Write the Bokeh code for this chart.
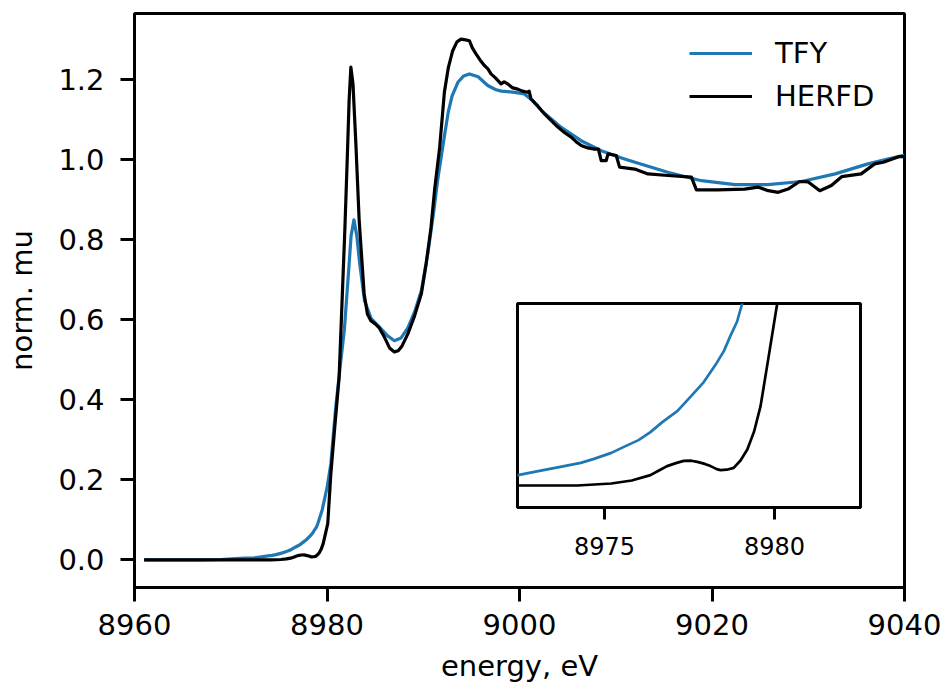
from bokeh.plotting import figure
from bokeh.models import Range1d, FixedTicker, PrintfTickFormatter, Legend, LegendItem
from bokeh.layouts import column
from bokeh.embed import file_html
from bokeh.resources import INLINE

# ---- data ----
tfy_energy = [8961.0, 8964.0, 8967.0, 8969.0, 8970.5, 8971.5, 8972.45, 8973.2, 8973.7,
              8974.3, 8974.69, 8975.2, 8975.57, 8976.0, 8976.35, 8976.7, 8977.14, 8977.5,
              8977.92, 8978.3, 8978.51, 8978.7, 8978.9, 8979.05, 8979.5, 8980.0,
              8980.4, 8980.9, 8981.4, 8981.8, 8982.3, 8982.5, 8982.8, 8983.1, 8983.4,
              8983.9, 8984.6, 8985.6, 8986.3, 8987.0, 8987.7, 8988.4, 8989.1, 8989.8,
              8990.5, 8991.1, 8991.5, 8992.2, 8992.6, 8993.0, 8993.6, 8994.2, 8994.8,
              8995.7, 8996.7, 8997.5, 8998.1, 8999.5, 9000.5, 9001.3, 9002.3, 9004.3,
              9006.4, 9008.5, 9010.6, 9012.0, 9015.4, 9018.9, 9022.4, 9025.8, 9029.3,
              9032.8, 9036.2, 9040.0]
tfy_mu = [0.0, 0.0, 0.0, 0.001, 0.003, 0.0045, 0.0052, 0.0077, 0.0093,
          0.0113, 0.0133, 0.0163, 0.0193, 0.0227, 0.0267, 0.0317, 0.0372, 0.0438,
          0.0517, 0.0613, 0.0672, 0.0747, 0.082, 0.091, 0.125, 0.18,
          0.24, 0.38, 0.49, 0.575, 0.74, 0.81, 0.85, 0.81, 0.74,
          0.648, 0.603, 0.578, 0.56, 0.548, 0.555, 0.58, 0.62, 0.673,
          0.77, 0.873, 0.95, 1.06, 1.12, 1.16, 1.194, 1.21, 1.215,
          1.208, 1.186, 1.176, 1.172, 1.169, 1.165, 1.15, 1.123, 1.082,
          1.048, 1.023, 1.005, 0.994, 0.969, 0.948, 0.938, 0.938, 0.946,
          0.965, 0.99, 1.012]

herfd_energy = [8961.0, 8965.0, 8970.0, 8974.2, 8975.2, 8975.8, 8976.35, 8976.6, 8976.84,
                8977.1, 8977.33, 8977.55, 8977.73, 8977.95, 8978.12, 8978.3, 8978.41,
                8978.6, 8978.8, 8979.0, 8979.2, 8979.4, 8979.59, 8979.83, 8980.08,
                8980.4, 8980.8, 8981.26, 8981.85, 8982.1, 8982.3, 8982.48, 8982.7,
                8983.0, 8983.34, 8983.86, 8984.2, 8984.56, 8985.0, 8985.4, 8985.9,
                8986.5, 8987.0, 8987.4, 8987.8, 8988.4, 8989.1, 8989.8, 8990.3, 8990.8,
                8991.2, 8991.7, 8992.2, 8992.6, 8993.06, 8993.5, 8993.92, 8994.4,
                8994.79, 8995.1, 8995.48, 8995.9, 8996.35, 8996.7, 8997.04, 8997.5,
                8998.08, 8998.4, 8998.78, 8999.3, 8999.82, 9000.3, 9000.86, 9001.0,
                9001.2, 9001.9, 9002.59, 9003.3, 9003.98, 9004.7, 9005.37, 9005.9,
                9006.41, 9007.1, 9007.8, 9008.2, 9008.49, 9009.0, 9009.2, 9010.05,
                9010.4, 9011.96, 9013.35, 9015.43, 9017.86, 9018.38, 9020.6, 9023.4,
                9024.79, 9025.84, 9026.88, 9027.9, 9029.1, 9030.0, 9031.2, 9032.4,
                9033.47, 9035.5, 9036.9, 9037.8, 9039.4, 9040.0]
herfd_mu = [0.0, 0.0, 0.0, 0.0, 0.001, 0.0025, 0.0052, 0.0075, 0.0097,
            0.0112, 0.0123, 0.0124, 0.0118, 0.0108, 0.0097, 0.0082, 0.0077,
            0.0079, 0.0088, 0.0125, 0.018, 0.027, 0.0397, 0.0647, 0.091,
            0.216, 0.33, 0.457, 0.823, 1.0, 1.15, 1.232, 1.19,
            1.04, 0.85, 0.665, 0.615, 0.598, 0.59, 0.581, 0.56,
            0.53, 0.52, 0.523, 0.535, 0.565, 0.61, 0.665, 0.74, 0.83,
            0.93, 1.03, 1.17, 1.23, 1.273, 1.295, 1.302, 1.30,
            1.298, 1.28, 1.265, 1.25, 1.236, 1.228, 1.215, 1.205,
            1.19, 1.195, 1.19, 1.18, 1.177, 1.172, 1.169, 1.172,
            1.152, 1.135, 1.115, 1.098, 1.082, 1.068, 1.057, 1.045,
            1.036, 1.03, 1.027, 1.027, 0.998, 0.998, 1.015, 1.011,
            0.982, 0.977, 0.965, 0.961, 0.957, 0.925, 0.925, 0.927,
            0.932, 0.923, 0.919, 0.927, 0.946, 0.945, 0.923, 0.936,
            0.958, 0.965, 0.99, 0.994, 1.008, 1.008]

series_labels = ["TFY", "HERFD"]
x_ticks = [8960, 8980, 9000, 9020, 9040]
y_ticks = [0.0, 0.2, 0.4, 0.6, 0.8, 1.0, 1.2]
inset_x_ticks = [8975, 8980]

FONT = "DejaVu Sans"
BLUE = "#1f77b4"
FS = "29px"

# ---- main plot ----
p = figure(width=943, height=692,
           x_range=Range1d(8960, 9040), y_range=Range1d(-0.069, 1.366),
           output_backend="svg", toolbar_location=None,
           min_border_left=134, min_border_right=39, min_border_top=13, min_border_bottom=105)
p.background_fill_color = "white"
p.border_fill_color = "white"
p.grid.visible = False
p.outline_line_color = "black"
p.outline_line_width = 3

r1 = p.line(tfy_energy, tfy_mu, line_color=BLUE, line_width=3.2, line_join="round")
r2 = p.line(herfd_energy, herfd_mu, line_color="black", line_width=3.2, line_join="round")

p.xaxis.ticker = FixedTicker(ticks=x_ticks)
p.yaxis.ticker = FixedTicker(ticks=y_ticks)
p.yaxis.formatter = PrintfTickFormatter(format="%.1f")
p.xaxis.axis_label = "energy, eV"
p.yaxis.axis_label = "norm. mu"
for ax in (p.xaxis, p.yaxis):
    ax.axis_line_width = 3
    ax.axis_line_color = "black"
    ax.major_tick_line_width = 3
    ax.major_tick_line_color = "black"
    ax.major_tick_out = 14
    ax.major_tick_in = 0
    ax.minor_tick_line_color = None
    ax.major_label_text_font = FONT
    ax.major_label_text_font_size = FS
    ax.major_label_text_color = "black"
    ax.axis_label_text_font = FONT
    ax.axis_label_text_font_size = FS
    ax.axis_label_text_font_style = "normal"
    ax.axis_label_text_color = "black"
p.xaxis.major_label_standoff = 12
p.xaxis.axis_label_standoff = 11
p.yaxis.major_label_standoff = 16
p.yaxis.axis_label_standoff = 16

legend = Legend(items=[LegendItem(label=series_labels[0], renderers=[r1]),
                       LegendItem(label=series_labels[1], renderers=[r2])],
                location="top_right")
legend.label_text_font = FONT
legend.label_text_font_size = FS
legend.label_text_color = "black"
legend.glyph_width = 63
legend.glyph_height = 30
legend.label_height = 30
legend.label_width = 106
legend.label_standoff = 23
legend.spacing = 9
legend.padding = 0
legend.margin = 23
legend.border_line_alpha = 0
legend.background_fill_alpha = 0
p.add_layout(legend)

# ---- inset (its side borders get aligned with the main plot's in the column) ----
inset = figure(width=516, height=269,
               x_range=Range1d(8972.44, 8982.53), y_range=Range1d(-0.011, 0.091),
               output_backend="svg", toolbar_location=None,
               min_border_left=134, min_border_right=39, min_border_top=5, min_border_bottom=60)
inset.background_fill_color = "white"
inset.border_fill_alpha = 0
inset.grid.visible = False
inset.outline_line_color = "black"
inset.outline_line_width = 3
inset.yaxis.visible = False
inset.line(tfy_energy, tfy_mu, line_color=BLUE, line_width=2.7, line_join="round")
inset.line(herfd_energy, herfd_mu, line_color="black", line_width=2.7, line_join="round")
inset.xaxis.ticker = FixedTicker(ticks=inset_x_ticks)
inset.xaxis.axis_line_width = 3
inset.xaxis.major_tick_line_width = 3
inset.xaxis.major_tick_out = 12
inset.xaxis.major_tick_in = 0
inset.xaxis.minor_tick_line_color = None
inset.xaxis.major_label_text_font = FONT
inset.xaxis.major_label_text_font_size = "24px"
inset.xaxis.major_label_text_color = "black"
inset.xaxis.major_label_standoff = 17

inset.styles = {"position": "absolute", "left": "383px", "top": "298px"}
layout = column(p, inset)
layout.styles = {"position": "relative"}

open("out.html", "w").write(file_html(layout, INLINE))
